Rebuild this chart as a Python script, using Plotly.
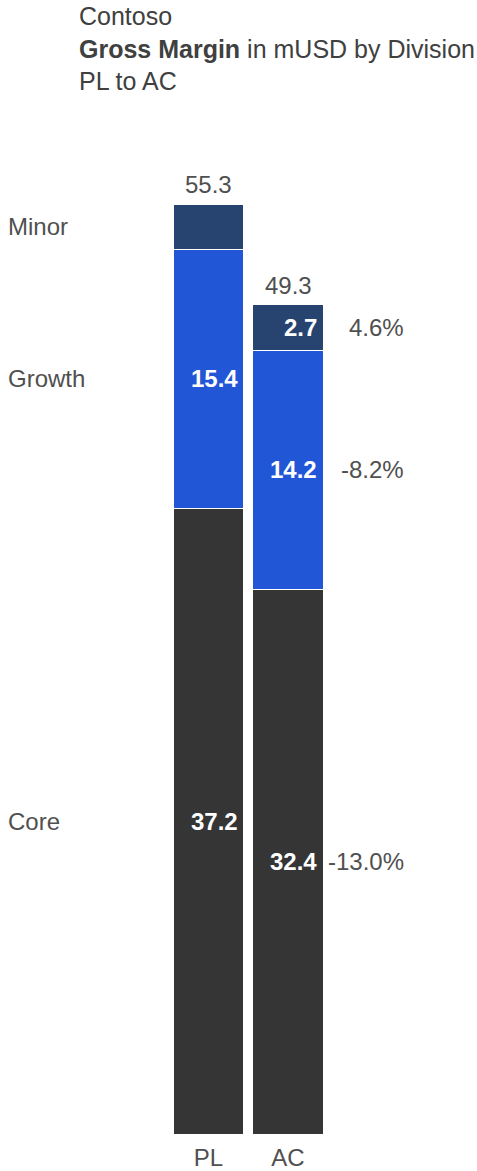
import plotly.graph_objects as go

# Gross margin by division, plan (PL) vs actual (AC), in mUSD
categories = ["PL", "AC"]
segments = ["Core", "Growth", "Minor"]
core = [37.2, 32.4]
growth = [15.4, 14.2]
minor = [2.7, 2.7]
totals = [55.3, 49.3]

# value labels drawn inside the segments ("" = not shown)
core_labels = ["37.2", "32.4"]
growth_labels = ["15.4", "14.2"]
minor_labels = ["", "2.7"]

# AC vs PL deviation per division
deltas = ["-13.0%", "-8.2%", "4.6%"]

title_lines = ["Contoso", "<b>Gross Margin</b> in mUSD by Division", "PL to AC"]

FONT = "Liberation Sans, Arial, sans-serif"
TEXT_GREY = "#505050"
colors = {"Core": "#353535", "Growth": "#2156d6", "Minor": "#274470"}
values = {"Core": core, "Growth": growth, "Minor": minor}
labels = {"Core": core_labels, "Growth": growth_labels, "Minor": minor_labels}

fig = go.Figure()
for seg in segments:
    fig.add_trace(go.Bar(
        x=categories, y=values[seg], name=seg,
        marker=dict(color=colors[seg], line=dict(color="#ffffff", width=1)),
        width=0.89, hoverinfo="x+y+name",
    ))

ann = []
# segment midpoints per bar
bases = [0.0, 0.0]
mids = {}
for seg in segments:
    mids[seg] = [b + v / 2 for b, v in zip(bases, values[seg])]
    for i, cat in enumerate(categories):
        if labels[seg][i]:
            ann.append(dict(x=cat, y=mids[seg][i],
                            text="<b>" + labels[seg][i] + "</b>",
                            xanchor="right", yanchor="middle", xshift=31,
                            showarrow=False,
                            font=dict(family=FONT, size=24, color="#ffffff"),
                            ))
    bases = [b + v for b, v in zip(bases, values[seg])]

# totals above each bar
for i, cat in enumerate(categories):
    ann.append(dict(x=cat, y=totals[i], text=f"{totals[i]:.1f}",
                    xanchor="center", yanchor="bottom", yshift=4,
                    showarrow=False,
                    font=dict(family=FONT, size=24, color=TEXT_GREY)))

# division names beside the PL bar
for seg in segments:
    ann.append(dict(x=0.013, xref="paper", y=mids[seg][0], text=seg,
                    xanchor="left", yanchor="middle", showarrow=False,
                    font=dict(family=FONT, size=24, color=TEXT_GREY)))

# deviations beside the AC bar
for seg, d in zip(segments, deltas):
    ann.append(dict(x=categories[1], y=mids[seg][1], text=d,
                    xanchor="right", yanchor="middle", xshift=118,
                    showarrow=False,
                    font=dict(family=FONT, size=24, color=TEXT_GREY)))

# title block
ann.append(dict(x=77 / 477, xref="paper", y=1, yref="paper",
                text="<br>".join(title_lines), align="left",
                xanchor="left", yanchor="top", showarrow=False,
                font=dict(family=FONT, size=25, color="#404040")))

fig.update_layout(
    width=477, height=1171,
    margin=dict(l=0, r=0, t=0, b=37, pad=0),
    barmode="stack", bargap=0.11,
    showlegend=False,
    plot_bgcolor="#ffffff", paper_bgcolor="#ffffff",
    annotations=ann,
    font=dict(family=FONT, size=24, color=TEXT_GREY),
)
fig.update_xaxes(type="category", range=[-2.623, 3.377], showgrid=False,
                 zeroline=False, showline=False, ticks="",
                 ticklabelstandoff=7,
                 tickfont=dict(family=FONT, size=24, color=TEXT_GREY))
fig.update_yaxes(range=[0, 67.43], visible=False, showgrid=False, zeroline=False)

fig.write_html("out.html")
